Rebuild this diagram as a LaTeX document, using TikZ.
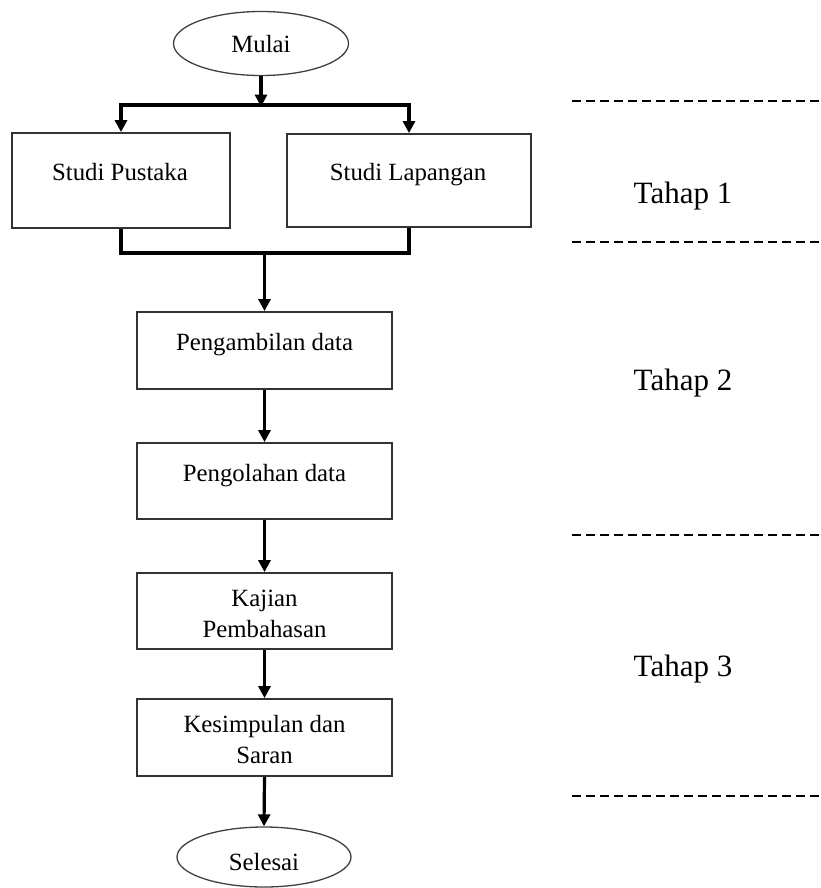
\documentclass[tikz,border=0pt]{standalone}
\usepackage{fontspec}
\setmainfont{Liberation Serif}
\usetikzlibrary{shapes.geometric,arrows.meta}
\tikzset{
  boxshape/.style={draw=black!80,line width=1.8pt,rectangle,inner sep=0pt},
  termshape/.style={draw=black!75,line width=1.3pt,ellipse,inner sep=0pt},
  txt/.style={font=\fontsize{24.8}{31}\selectfont,inner sep=0pt,anchor=base,align=center},
  tahap/.style={font=\fontsize{31}{37}\selectfont,inner sep=0pt,anchor=base},
  conn/.style={draw=black,line width=3.2pt},
  arr/.style={conn,-{Triangle[length=12pt,width=12pt]}},
  sep/.style={draw=black,line width=2.8pt,dash pattern=on 9pt off 5pt}
}
\begin{document}
\begin{tikzpicture}[x=1pt,y=-1pt]
\useasboundingbox (0,0) rectangle (821,888);
% terminals
\node[termshape,minimum width=175pt,minimum height=64pt] (mulai) at (261,43.5) {};
\node[txt] (mulaiT) at (261,53) {Mulai};
\node[termshape,minimum width=174pt,minimum height=60pt] (selesai) at (264,857) {};
\node[txt] (selesaiT) at (264,870) {Selesai};
% boxes
\node[boxshape,minimum width=218pt,minimum height=95pt] (sp) at (121,180.5) {};
\node[txt] (spT) at (120,180) {Studi Pustaka};
\node[boxshape,minimum width=244pt,minimum height=93pt] (sl) at (409,180.5) {};
\node[txt] (slT) at (408,180) {Studi Lapangan};
\node[boxshape,minimum width=255pt,minimum height=77pt] (pd) at (264.5,350.5) {};
\node[txt] (pdT) at (264.5,350) {Pengambilan data};
\node[boxshape,minimum width=255pt,minimum height=76pt] (po) at (264.5,481) {};
\node[txt] (poT) at (264.5,481) {Pengolahan data};
\node[boxshape,minimum width=255pt,minimum height=76pt] (kp) at (264.5,611) {};
\node[txt] (kpT) at (264.5,637) {Kajian\\Pembahasan};
\node[boxshape,minimum width=255pt,minimum height=77pt] (ks) at (264.5,737.5) {};
\node[txt] (ksT) at (264.5,763) {Kesimpulan dan\\Saran};
% junctions
\coordinate (j1) at (261,105);
\coordinate (jl) at (sp.north |- j1);
\coordinate (jr) at (sl.north |- j1);
\coordinate (j2) at (pd.north |- 0,253);
% connectors
\draw[conn,-{Triangle[length=12pt,width=12pt]}] (mulai.south) -- ([yshift=-1.6pt]j1);
\draw[conn,line cap=rect] (jl) -- (jr);
\draw[arr] (jl) -- (sp.north);
\draw[arr] (jr) -- (sl.north);
\draw[conn] (sp.south) -- (sp.south |- j2) -- (sl.south |- j2) -- (sl.south);
\draw[arr] (j2) -- (pd.north);
\draw[arr] (pd.south) -- (po.north);
\draw[arr] (po.south) -- (kp.north);
\draw[arr] (kp.south) -- (ks.north);
\draw[arr] (ks.south) -- (selesai.north);
% stage separators
\coordinate (d1a) at (572,101); \coordinate (d1b) at (821,101);
\coordinate (d2a) at (572,242); \coordinate (d2b) at (821,242);
\coordinate (d3a) at (572,535); \coordinate (d3b) at (821,535);
\coordinate (d4a) at (572,796); \coordinate (d4b) at (821,796);
\draw[sep] (d1a) -- (d1b);
\draw[sep] (d2a) -- (d2b);
\draw[sep] (d3a) -- (d3b);
\draw[sep] (d4a) -- (d4b);
\node[tahap] (t1) at (683,203) {Tahap 1};
\node[tahap] (t2) at (683,390) {Tahap 2};
\node[tahap] (t3) at (683,676) {Tahap 3};
\end{tikzpicture}
\end{document}
